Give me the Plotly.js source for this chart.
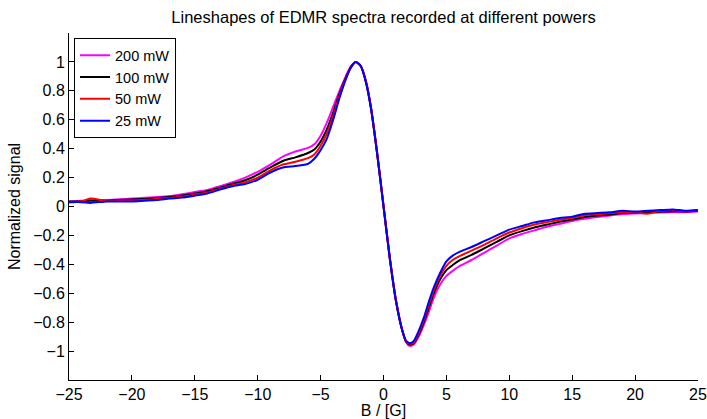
<!DOCTYPE html>
<html>
<head>
<meta charset="utf-8">
<script src="https://cdn.plot.ly/plotly-3.0.1.min.js"></script>
<style>
html,body{margin:0;padding:0;background:#fff;}
#chart{width:707px;height:419px;}
</style>
</head>
<body>
<div id="chart"></div>
<script>
// Magnetic field offset B / [G]
const fieldB = [-25, -24, -23.3, -22, -21, -20, -19, -18, -17, -16, -15, -14, -13, -12, -11, -10, -9, -8, -7, -6, -5.5, -5, -4.5, -4, -3.5, -3, -2.6, -2.2, -1.8, -1.4, -1, -0.5, 0, 0.5, 1, 1.5, 1.8, 2.1, 2.4, 2.8, 3.2, 3.6, 4, 4.5, 5, 5.5, 6, 7, 8, 9, 10, 11, 12, 13, 14, 15, 16, 17, 18, 19, 20, 21, 22, 23, 24, 25];

const signal200mW = [0.035, 0.04, 0.045, 0.045, 0.05, 0.055, 0.06, 0.065, 0.072, 0.085, 0.1, 0.115, 0.14, 0.168, 0.2, 0.24, 0.29, 0.345, 0.38, 0.405, 0.43, 0.49, 0.58, 0.69, 0.8, 0.9, 0.97, 1.0, 0.97, 0.87, 0.69, 0.37, 0.01, -0.35, -0.65, -0.86, -0.94, -0.965, -0.955, -0.9, -0.82, -0.73, -0.63, -0.54, -0.48, -0.445, -0.415, -0.37, -0.32, -0.27, -0.22, -0.19, -0.165, -0.14, -0.12, -0.1, -0.085, -0.073, -0.062, -0.052, -0.048, -0.045, -0.042, -0.04, -0.04, -0.035];

const signal100mW = [0.035, 0.035, 0.04, 0.04, 0.045, 0.048, 0.052, 0.058, 0.066, 0.076, 0.09, 0.105, 0.13, 0.157, 0.182, 0.22, 0.27, 0.315, 0.34, 0.37, 0.395, 0.45, 0.535, 0.65, 0.78, 0.89, 0.965, 1.0, 0.97, 0.865, 0.685, 0.365, 0.005, -0.355, -0.655, -0.86, -0.935, -0.955, -0.945, -0.885, -0.8, -0.7, -0.6, -0.505, -0.44, -0.405, -0.375, -0.335, -0.29, -0.245, -0.2, -0.17, -0.145, -0.125, -0.105, -0.09, -0.072, -0.062, -0.055, -0.045, -0.042, -0.04, -0.036, -0.032, -0.034, -0.03];

const signal50mW = [0.03, 0.035, 0.055, 0.038, 0.04, 0.042, 0.046, 0.052, 0.06, 0.068, 0.082, 0.097, 0.122, 0.148, 0.167, 0.2, 0.25, 0.29, 0.31, 0.335, 0.36, 0.42, 0.505, 0.625, 0.765, 0.885, 0.96, 1.0, 0.97, 0.862, 0.682, 0.362, 0.002, -0.358, -0.658, -0.86, -0.935, -0.95, -0.94, -0.875, -0.785, -0.68, -0.58, -0.48, -0.41, -0.37, -0.345, -0.305, -0.265, -0.22, -0.18, -0.15, -0.125, -0.108, -0.092, -0.078, -0.06, -0.053, -0.047, -0.038, -0.04, -0.05, -0.03, -0.028, -0.032, -0.028];

const signal25mW = [0.03, 0.03, 0.025, 0.035, 0.035, 0.035, 0.04, 0.045, 0.055, 0.062, 0.075, 0.09, 0.117, 0.14, 0.155, 0.185, 0.235, 0.27, 0.28, 0.295, 0.33, 0.39, 0.47, 0.6, 0.75, 0.88, 0.96, 1.0, 0.97, 0.86, 0.68, 0.36, 0.0, -0.36, -0.66, -0.86, -0.93, -0.945, -0.93, -0.86, -0.77, -0.66, -0.56, -0.46, -0.38, -0.34, -0.315, -0.28, -0.24, -0.2, -0.16, -0.135, -0.11, -0.095, -0.08, -0.07, -0.05, -0.045, -0.04, -0.03, -0.035, -0.03, -0.025, -0.02, -0.03, -0.025];

const seriesNames = ['200 mW', '100 mW', '50 mW', '25 mW'];
const seriesColors = ['#ff00ff', '#000000', '#ff0000', '#0000ff'];
const seriesData = [signal200mW, signal100mW, signal50mW, signal25mW];

const yTicks = [-1, -0.8, -0.6, -0.4, -0.2, 0, 0.2, 0.4, 0.6, 0.8, 1];

const FONT = 'Liberation Sans, Arial, Helvetica, sans-serif';
const FS = 16;

const traces = seriesData.map((ys, i) => ({
  x: fieldB,
  y: ys,
  type: 'scatter',
  mode: 'lines',
  name: seriesNames[i],
  line: {color: seriesColors[i], width: 2, shape: 'spline', smoothing: 0.6}
}));

const layout = {
  width: 707,
  height: 419,
  margin: {l: 69, r: 9, t: 33, b: 39, pad: 0},
  paper_bgcolor: '#ffffff',
  plot_bgcolor: '#ffffff',
  font: {family: FONT, size: FS, color: '#000000'},
  title: {
    text: 'Lineshapes of EDMR spectra recorded at different powers',
    font: {family: FONT, size: 16.5, color: '#000000'},
    xref: 'paper', x: 0.5, xanchor: 'center',
    yref: 'container', y: 1 - 17 / 419, yanchor: 'middle'
  },
  xaxis: {
    range: [-25, 25],
    tick0: -25, dtick: 5,
    ticks: 'inside', ticklen: 5, tickwidth: 1, tickcolor: '#000000',
    showline: true, linecolor: '#000000', linewidth: 1, mirror: false,
    showgrid: false, zeroline: false,
    tickfont: {family: FONT, size: FS, color: '#000000'},
    title: {text: 'B / [G]', font: {family: FONT, size: FS, color: '#000000'}, standoff: 2}
  },
  yaxis: {
    range: [-1.2, 1.2],
    tickvals: yTicks,
    ticks: 'inside', ticklen: 5, tickwidth: 1, tickcolor: '#000000',
    showline: true, linecolor: '#000000', linewidth: 1, mirror: false,
    showgrid: false, zeroline: false,
    tickfont: {family: FONT, size: FS, color: '#000000'},
    title: {text: 'Normalized signal', font: {family: FONT, size: FS, color: '#000000'}, standoff: 8}
  },
  legend: {
    x: 0.008, xanchor: 'left',
    y: 0.985, yanchor: 'top',
    bgcolor: '#ffffff', bordercolor: '#000000', borderwidth: 1,
    font: {family: FONT, size: 14.5, color: '#000000'},
    tracegroupgap: 0
  },
  showlegend: true
};

Plotly.newPlot('chart', traces, layout, {displayModeBar: false, staticPlot: true});
</script>
</body>
</html>
